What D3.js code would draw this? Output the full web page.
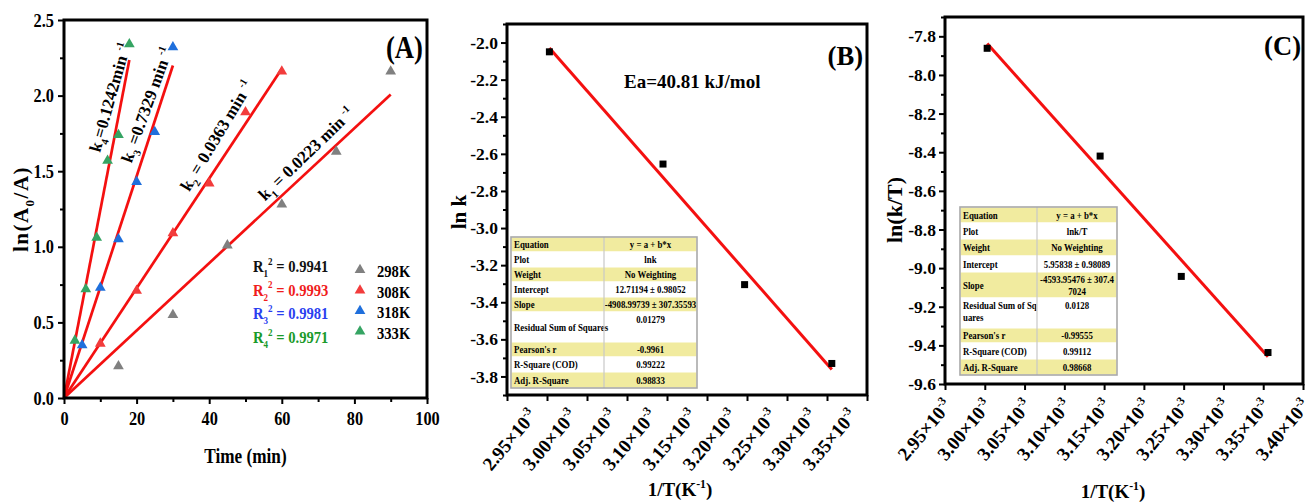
<!DOCTYPE html>
<html>
<head>
<meta charset="utf-8">
<script src="https://cdn.jsdelivr.net/npm/d3@7"></script>
<style>
  body { margin: 0; background: #fff; }
  svg { display: block; font-family: "Liberation Serif", "Times New Roman", serif; font-weight: bold; }
</style>
</head>
<body>
<svg id="fig" width="1311" height="504"></svg>
<script>
// ---------- panel A data: ln(A0/A) vs time
const time298 = [15, 30, 45, 60, 75, 90]
const lnA298 = [0.21, 0.55, 1.01, 1.28, 1.63, 2.16]
const time308 = [10, 20, 30, 40, 50, 60]
const lnA308 = [0.36, 0.71, 1.09, 1.42, 1.89, 2.16]
const time318 = [5, 10, 15, 20, 25, 30]
const lnA318 = [0.35, 0.73, 1.05, 1.43, 1.76, 2.32]
const time333 = [3, 6, 9, 12, 15, 18]
const lnA333 = [0.38, 0.72, 1.06, 1.57, 1.74, 2.34]

const tempNames = ['298K', '308K', '318K', '333K']
const rateK = [0.0223, 0.0363, 0.0733, 0.1242]
const rateText = ['0.0223', '0.0363', '0.7329', '0.1242']
const r2Text = ['0.9941', '0.9993', '0.9981', '0.9971']
const timeTicks = [0, 20, 40, 60, 80, 100]
const timeMinor = [10, 30, 50, 70, 90]
const lnATicks = [0, 0.5, 1.0, 1.5, 2.0, 2.5]
const lnAMinor = [0.25, 0.75, 1.25, 1.75, 2.25]

// ---------- panels B and C data (1/T in 10^-3 K^-1)
const invT = [3.003, 3.145, 3.247, 3.356]
const lnK = [-2.05, -2.655, -3.305, -3.73]
const lnKT = [-7.862, -8.42, -9.043, -9.437]
const fitB = [12.71194, -4908.99739]
const fitC = [5.95838, -4593.95476]
const invTTicks = [2.95, 3.00, 3.05, 3.10, 3.15, 3.20, 3.25, 3.30, 3.35, 3.40]
const lnKTicks = [-3.8, -3.6, -3.4, -3.2, -3.0, -2.8, -2.6, -2.4, -2.2, -2.0]
const lnKMinor = [-3.9, -3.7, -3.5, -3.3, -3.1, -2.9, -2.7, -2.5, -2.3, -2.1, -1.9]
const lnKTTicks = [-9.6, -9.4, -9.2, -9.0, -8.8, -8.6, -8.4, -8.2, -8.0, -7.8]
const lnKTMinor = [-9.5, -9.3, -9.1, -8.9, -8.7, -8.5, -8.3, -8.1, -7.9, -7.7]

const tableB = [
  ['Equation', 'y = a + b*x'], ['Plot', 'lnk'], ['Weight', 'No Weighting'],
  ['Intercept', '12.71194 ± 0.98052'], ['Slope', '-4908.99739 ± 307.35593'],
  ['Residual Sum of Squares', '0.01279'], ["Pearson's r", '-0.9961'],
  ['R-Square (COD)', '0.99222'], ['Adj. R-Square', '0.98833']
]
const tableC = [
  ['Equation', 'y = a + b*x'], ['Plot', 'lnk/T'], ['Weight', 'No Weighting'],
  ['Intercept', '5.95838 ± 0.98089'], ['Slope', '-4593.95476 ± 307.4|7024'],
  ['Residual Sum of Sq|uares', '0.0128'], ["Pearson's r", '-0.99555'],
  ['R-Square (COD)', '0.99112'], ['Adj. R-Square', '0.98668']
]

const colors = ['#808080', '#f23c3c', '#1f6fdc', '#35a463']
const r2Colors = ['#111111', '#f01d1d', '#2a3ff0', '#1a9a2a']
const fitRed = '#f41010'

const svg = d3.select('#fig')
svg.append('rect').attr('width', 1311).attr('height', 504).attr('fill', '#fff')

// text with sub / superscript pieces
function rich(sel, parts, size) {
  let shift = 0
  parts.forEach(([t, m]) => {
    const target = m === 'sub' ? size * 0.3 : m === 'sup' ? -size * 0.42 : 0
    sel.append('tspan')
      .attr('dy', target - shift)
      .attr('font-size', m ? size * 0.62 : size)
      .text(t)
    shift = target
  })
  return sel
}

function textAt(g, x, y, size, sx, anchor) {
  return g.append('text')
    .attr('transform', `translate(${x},${y}) scale(${sx},1)`)
    .attr('font-size', size)
    .attr('text-anchor', anchor || 'start')
}

function frame(g, box) {
  g.append('rect')
    .attr('x', box.l).attr('y', box.t)
    .attr('width', box.r - box.l).attr('height', box.b - box.t)
    .attr('fill', 'none').attr('stroke', '#000').attr('stroke-width', 3)
}

function styleAxis(a) {
  a.attr('font-family', null).attr('font-size', null)
  a.select('.domain').remove()
  a.selectAll('.tick line').attr('stroke', '#000').attr('stroke-width', 2)
  a.selectAll('.tick text').attr('fill', '#000')
}

// ================= Panel A =================
const boxA = {l: 64, r: 427, t: 20, b: 398}
const gA = svg.append('g')
const xA = d3.scaleLinear().domain([0, 100]).range([boxA.l, boxA.r])
const yA = d3.scaleLinear().domain([0, 2.5]).range([boxA.b, boxA.t])
const sxA = 0.86

gA.append('g').attr('transform', `translate(0,${boxA.b})`)
  .call(d3.axisBottom(xA).tickValues(timeMinor).tickSize(4).tickFormat(''))
  .call(styleAxis)
const axA = gA.append('g').attr('transform', `translate(0,${boxA.b})`)
  .call(d3.axisBottom(xA).tickValues(timeTicks).tickSize(6).tickPadding(8).tickFormat(d => d))
  .call(styleAxis)
axA.selectAll('.tick text').attr('font-size', 19).attr('transform', `scale(${sxA},1)`)

gA.append('g').attr('transform', `translate(${boxA.l},0)`)
  .call(d3.axisLeft(yA).tickValues(lnAMinor).tickSize(4).tickFormat(''))
  .call(styleAxis)
const ayA = gA.append('g').attr('transform', `translate(${boxA.l},0)`)
  .call(d3.axisLeft(yA).tickValues(lnATicks).tickSize(6).tickFormat(d => d.toFixed(1)))
  .call(styleAxis)
ayA.selectAll('.tick text').attr('font-size', 19).attr('x', -10 / sxA)
  .attr('transform', `scale(${sxA},1)`)

const seriesA = [
  [time298, lnA298], [time308, lnA308], [time318, lnA318], [time333, lnA333]
]
const tri = d3.symbol().type(d3.symbolTriangle).size(50)

seriesA.forEach(([ts, vs], i) => {
  const tMax = d3.max(ts)
  gA.append('line')
    .attr('x1', xA(0)).attr('y1', yA(0))
    .attr('x2', xA(tMax)).attr('y2', yA(rateK[i] * tMax))
    .attr('stroke', fitRed).attr('stroke-width', 2.7)
  gA.selectAll(null).data(ts).enter().append('path')
    .attr('d', tri)
    .attr('transform', (d, j) => `translate(${xA(d)},${yA(vs[j])})`)
    .attr('fill', colors[i])
})

// rate constant annotations (anchor in data units + angle)
const kAnchorT = [55.4, 34.5, 18.6, 9.9]
const kAnchorY = [1.3, 1.36, 1.55, 1.62]
const kAngle = [-44, -59, -70, -74]
const kEq = [' = ', ' = ', ' =', '=']
const kUnit = [' min ', ' min ', ' min ', 'min ']
rateText.forEach((r, i) => {
  const t = gA.append('text')
    .attr('transform', `translate(${xA(kAnchorT[i])},${yA(kAnchorY[i])}) rotate(${kAngle[i]})`)
    .attr('font-size', 17)
  rich(t, [['k', ''], [String(i + 1), 'sub'], [kEq[i] + r + kUnit[i], ''], ['-1', 'sup']], 17)
})

// R^2 block
r2Text.forEach((r, i) => {
  const t = textAt(gA, boxA.l + 189, boxA.t + 252 + i * 23.6, 17, sxA)
    .attr('fill', r2Colors[i])
  rich(t, [['R', ''], [String(i + 1), 'sub'], ['2', 'sup'], [' = ' + r, '']], 17)
})

// legend
tempNames.forEach((n, i) => {
  const cy = boxA.t + 250 + i * 20.5
  gA.append('path').attr('d', tri)
    .attr('transform', `translate(${boxA.l + 296},${cy})`)
    .attr('fill', colors[i])
  textAt(gA, boxA.l + 313, cy + 7, 17, sxA).text(n)
})

textAt(gA, boxA.r - 4, boxA.t + 38, 31, sxA, 'end').text('(A)')
textAt(gA, (boxA.l + boxA.r) / 2, 463, 20, sxA, 'middle').text('Time (min)')
const ylA = gA.append('text')
  .attr('transform', `translate(28,${(boxA.t + boxA.b) / 2}) rotate(-90)`)
  .attr('text-anchor', 'middle').attr('font-size', 21).attr('letter-spacing', 1.5)
rich(ylA, [['ln(A', ''], ['0', 'sub'], ['/A)', '']], 21)
frame(gA, boxA)

// ================= Panels B, C =================
function arrhenius(opt) {
  const {box, yDomain, ys, fit, yTicks, yMinor, labelTicks, tdx, tdy, table} = opt
  const g = svg.append('g')
  const x = d3.scaleLinear().domain([2.95, 3.40]).range([box.l, box.r])
  const y = d3.scaleLinear().domain(yDomain).range([box.b, box.t])

  const ax = g.append('g').attr('transform', `translate(0,${box.b})`)
    .call(d3.axisBottom(x).tickValues(invTTicks).tickSize(6).tickFormat(''))
    .call(styleAxis)
  labelTicks.forEach(v => {
    const t = ax.append('text')
      .attr('transform', `translate(${x(v) + tdx},${tdy}) rotate(-50)`)
      .attr('text-anchor', 'end').attr('fill', '#000').attr('font-size', 19)
    rich(t, [[v.toFixed(2) + '×10', ''], ['-3', 'sup']], 19)
  })

  g.append('g').attr('transform', `translate(${box.l},0)`)
    .call(d3.axisLeft(y).tickValues(yMinor).tickSize(4).tickFormat(''))
    .call(styleAxis)
  const ay = g.append('g').attr('transform', `translate(${box.l},0)`)
    .call(d3.axisLeft(y).tickValues(yTicks).tickSize(6).tickPadding(3).tickFormat(d => d.toFixed(1)))
    .call(styleAxis)
  ay.selectAll('.tick text').attr('font-size', 17.5)

  // table
  const tb = table
  const tg = g.append('g')
  let yy = tb.y
  tb.rows.forEach((row, i) => {
    const h = tb.heights[i]
    tg.append('rect').attr('x', tb.x).attr('y', yy).attr('width', tb.w1 + tb.w2).attr('height', h)
      .attr('fill', i % 2 === 0 && i !== 5 ? '#f1eb9f' : (i === 4 ? '#f1eb9f' : '#fff'))
      .attr('stroke', '#fff').attr('stroke-width', 1)
    const lab = row[0].split('|'), val = row[1].split('|')
    const lh = 11.5
    const ly = lab.length > 1 ? yy + 11 : yy + h / 2 + 3.5
    lab.forEach((s, k) => textAt(tg, tb.x + 3, ly + k * lh, 10.5, 0.84).text(s))
    const vy = val.length > 1 ? yy + h / 2 - 2 : (h > 20 ? yy + 11 : yy + h / 2 + 3.5)
    val.forEach((s, k) => textAt(tg, tb.x + tb.w1 + tb.w2 / 2, vy + k * lh, 10.5, 0.84, 'middle').text(s))
    yy += h
  })
  tg.append('line').attr('x1', tb.x + tb.w1).attr('x2', tb.x + tb.w1)
    .attr('y1', tb.y).attr('y2', yy).attr('stroke', '#c8c8c8').attr('stroke-width', 1.2)
  tg.append('rect').attr('x', tb.x).attr('y', tb.y).attr('width', tb.w1 + tb.w2).attr('height', yy - tb.y)
    .attr('fill', 'none').attr('stroke', '#a9a9a9').attr('stroke-width', 1.6)

  // fit line and points
  const x0 = d3.min(invT), x1 = d3.max(invT)
  g.append('line')
    .attr('x1', x(x0)).attr('y1', y(fit[0] + fit[1] * x0 * 1e-3))
    .attr('x2', x(x1)).attr('y2', y(fit[0] + fit[1] * x1 * 1e-3))
    .attr('stroke', fitRed).attr('stroke-width', 3)
  g.selectAll(null).data(invT).enter().append('rect')
    .attr('x', d => x(d) - 3.5).attr('y', (d, i) => y(ys[i]) - 3.5)
    .attr('width', 7).attr('height', 7).attr('fill', '#000')

  frame(g, box)
  return g
}

const gB = arrhenius({
  box: {l: 507, r: 867, t: 24, b: 395},
  yDomain: [-3.9, -1.9], ys: lnK, fit: fitB,
  yTicks: lnKTicks, yMinor: lnKMinor,
  labelTicks: invTTicks.slice(0, 9), tdx: 31, tdy: 21,
  table: {x: 511, y: 237, w1: 93, w2: 93, rows: tableB,
    heights: [15, 15, 15, 15, 15, 30, 15, 15, 16]}
})
textAt(gB, 624, 88, 19, 1).text('Ea=40.81 kJ/mol')
textAt(gB, 863, 65, 28, 0.95, 'end').text('(B)')
gB.append('text').attr('transform', 'translate(466,212) rotate(-90)')
  .attr('text-anchor', 'middle').attr('font-size', 21).text('ln k')
rich(textAt(gB, 680, 496, 19, 1, 'middle'), [['1/T(K', ''], ['-1', 'sup'], [')', '']], 19)

const gC = arrhenius({
  box: {l: 945, r: 1303, t: 17, b: 384},
  yDomain: [-9.6, -7.7], ys: lnKT, fit: fitC,
  yTicks: lnKTTicks, yMinor: lnKTMinor,
  labelTicks: invTTicks, tdx: 8, tdy: 22,
  table: {x: 960, y: 207, w1: 77, w2: 80, rows: tableC,
    heights: [16, 16, 17, 16, 26, 30, 15, 16, 16]}
})
textAt(gC, 1301, 55, 28, 0.95, 'end').text('(C)')
gC.append('text').attr('transform', 'translate(902,210) rotate(-90)')
  .attr('text-anchor', 'middle').attr('font-size', 22).text('ln(k/T)')
rich(textAt(gC, 1113, 498, 19, 1, 'middle'), [['1/T(K', ''], ['-1', 'sup'], [')', '']], 19)
</script>
</body>
</html>
